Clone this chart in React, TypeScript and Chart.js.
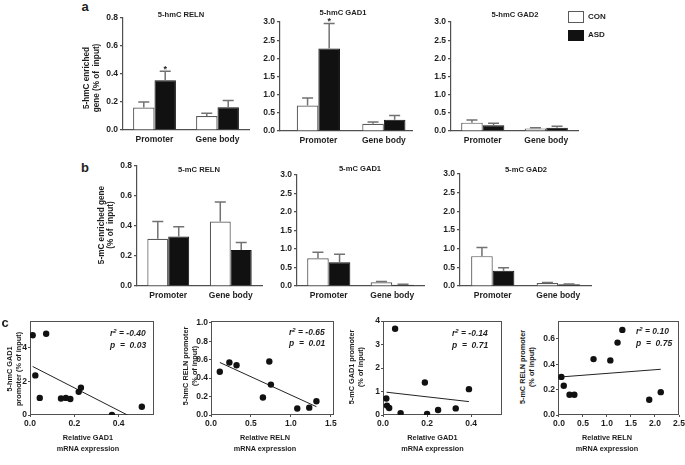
import React, { useEffect, useRef } from "react";
import { Chart, registerables } from "chart.js";

Chart.register(...registerables);

const FONT = "'Liberation Sans', Arial, Helvetica, sans-serif";
const TEXT = "#1e1e1e";
const AXIS = "#505050";
const ERR = "#727272";

// ---------------- data ----------------
const regions = ["Promoter", "Gene body"];
const groups = ["CON", "ASD"];
const barTitles = ["5-hmC RELN", "5-hmC GAD1", "5-hmC GAD2", "5-mC RELN", "5-mC GAD1", "5-mC GAD2"];

// a: 5-hmC enrichment (% of input), mean and SEM
const hmcRelnCon = [0.16, 0.1];
const hmcRelnConErr = [0.04, 0.02];
const hmcRelnAsd = [0.355, 0.162];
const hmcRelnAsdErr = [0.065, 0.048];
const hmcRelnSig = [true, false];

const hmcGad1Con = [0.7, 0.2];
const hmcGad1ConErr = [0.21, 0.05];
const hmcGad1Asd = [2.27, 0.31];
const hmcGad1AsdErr = [0.69, 0.12];
const hmcGad1Sig = [true, false];

const hmcGad2Con = [0.23, 0.07];
const hmcGad2ConErr = [0.07, 0.02];
const hmcGad2Asd = [0.16, 0.09];
const hmcGad2AsdErr = [0.05, 0.04];
const hmcGad2Sig = [false, false];

// b: 5-mC enrichment (% of input)
const mcRelnCon = [0.315, 0.43];
const mcRelnConErr = [0.115, 0.13];
const mcRelnAsd = [0.33, 0.24];
const mcRelnAsdErr = [0.065, 0.05];
const mcRelnSig = [false, false];

const mcGad1Con = [0.75, 0.1];
const mcGad1ConErr = [0.16, 0.025];
const mcGad1Asd = [0.64, 0.035];
const mcGad1AsdErr = [0.22, 0.01];
const mcGad1Sig = [false, false];

const mcGad2Con = [0.8, 0.08];
const mcGad2ConErr = [0.23, 0.015];
const mcGad2Asd = [0.41, 0.045];
const mcGad2AsdErr = [0.08, 0.01];
const mcGad2Sig = [false, false];

const yTicksLow = [0, 0.2, 0.4, 0.6, 0.8];
const yTicksHigh = [0, 0.5, 1, 1.5, 2, 2.5, 3];

// c: correlations with mRNA expression
const hmcGad1Expr = [0.012, 0.073, 0.024, 0.044, 0.14, 0.162, 0.182, 0.22, 0.23, 0.37, 0.505];
const hmcGad1Prom = [4.75, 4.84, 2.36, 1.02, 0.98, 1.02, 0.95, 1.38, 1.62, 0.0, 0.49];
const hmcGad1FitX = [0.012, 0.44];
const hmcGad1FitY = [2.89, 0.0];

const hmcRelnExpr = [0.11, 0.23, 0.32, 0.65, 0.73, 0.75, 1.08, 1.23, 1.32];
const hmcRelnProm = [0.47, 0.57, 0.54, 0.19, 0.58, 0.33, 0.07, 0.08, 0.15];
const hmcRelnFitX = [0.11, 1.32];
const hmcRelnFitY = [0.57, 0.09];

const mcGad1Expr = [0.055, 0.015, 0.018, 0.028, 0.08, 0.19, 0.2, 0.25, 0.33, 0.39];
const mcGad1Prom = [3.67, 0.7, 0.4, 0.3, 0.08, 1.38, 0.05, 0.21, 0.28, 1.1];
const mcGad1FitX = [0.016, 0.39];
const mcGad1FitY = [0.97, 0.57];

const mcRelnExpr = [0.05, 0.1, 0.22, 0.32, 0.72, 1.07, 1.22, 1.32, 1.88, 2.12];
const mcRelnProm = [0.3, 0.23, 0.16, 0.16, 0.44, 0.43, 0.57, 0.67, 0.12, 0.18];
const mcRelnFitX = [0.05, 2.12];
const mcRelnFitY = [0.3, 0.36];

const gad1ExprTicks = [0, 0.2, 0.4];
const relnExprTicks = [0, 0.5, 1, 1.5];
const relnExprTicksWide = [0, 0.5, 1, 1.5, 2, 2.5];
const hmcGad1PromTicks = [0, 2, 4];
const hmcRelnPromTicks = [0, 0.2, 0.4, 0.6, 0.8, 1];
const mcGad1PromTicks = [0, 1, 2, 3, 4];
const mcRelnPromTicks = [0, 0.2, 0.4, 0.6];

const rSquared = ["-0.40", "-0.65", "-0.14", "0.10"];
const pValues = ["0.03", "0.01", "0.71", "0.75"];

// ---------------- layout helpers ----------------
const PT = 8;
const PR = 12;
type Rect = { l: number; t: number; r: number; b: number };

function frame(rc: Rect, wy: number, hx: number) {
  return {
    left: rc.l - wy,
    top: rc.t - PT,
    width: wy + rc.r - rc.l + PR,
    height: PT + rc.b - rc.t + hx,
  };
}

const tickFont = { family: FONT, size: 8.5, weight: "bold" as const };

const errorBarPlugin = {
  id: "errorBars",
  afterDatasetsDraw(chart: any) {
    const ctx = chart.ctx;
    const yScale = chart.scales.y;
    chart.data.datasets.forEach((ds: any, di: number) => {
      if (!ds.errors) return;
      const meta = chart.getDatasetMeta(di);
      meta.data.forEach((el: any, j: number) => {
        const v = ds.data[j].y;
        const e = ds.errors[j];
        const x = el.x;
        const yTop = el.y;
        const yErr = yScale.getPixelForValue(v + e);
        const cap = 11;
        ctx.save();
        ctx.strokeStyle = ERR;
        ctx.lineWidth = 1.5;
        ctx.beginPath();
        ctx.moveTo(x, yTop);
        ctx.lineTo(x, yErr);
        ctx.moveTo(x - cap / 2, yErr);
        ctx.lineTo(x + cap / 2, yErr);
        ctx.stroke();
        if (ds.sig && ds.sig[j]) {
          ctx.fillStyle = TEXT;
          ctx.font = `bold 9px ${FONT}`;
          ctx.textAlign = "center";
          ctx.textBaseline = "alphabetic";
          ctx.fillText("*", x, yErr + 0.5);
        }
        ctx.restore();
      });
    });
  },
};

const boxPlugin = {
  id: "boxBorder",
  beforeDatasetsDraw(chart: any) {
    const { left, top, right, bottom } = chart.chartArea;
    const ctx = chart.ctx;
    ctx.save();
    ctx.strokeStyle = AXIS;
    ctx.lineWidth = 1;
    ctx.strokeRect(Math.round(left) + 0.5, Math.round(top) + 0.5, Math.round(right - left) - 1, Math.round(bottom - top) - 1);
    ctx.restore();
  },
};

function barConfig(
  con: number[], conErr: number[], asd: number[], asdErr: number[], sig: boolean[],
  yMax: number, yTicks: number[], xMin: number, xMax: number, catPct: number, wy: number, hx: number
) {
  const pos = regions.map((_, i) => i + 1);
  return {
    type: "bar",
    data: {
      datasets: [
        {
          label: groups[0],
          data: pos.map((x, i) => ({ x, y: con[i] })),
          errors: conErr,
          sig: regions.map(() => false),
          backgroundColor: "#ffffff",
          borderColor: "#5a5a5a",
          borderWidth: 1.2,
          barPercentage: 1,
          categoryPercentage: catPct,
        },
        {
          label: groups[1],
          data: pos.map((x, i) => ({ x, y: asd[i] })),
          errors: asdErr,
          sig,
          backgroundColor: "#111111",
          borderColor: "#111111",
          borderWidth: 1,
          barPercentage: 1,
          categoryPercentage: catPct,
        },
      ],
    },
    options: {
      responsive: false,
      animation: false,
      devicePixelRatio: 1,
      layout: { padding: { top: PT, right: PR, bottom: 0, left: 0 } },
      plugins: { legend: { display: false }, tooltip: { enabled: false } },
      scales: {
        x: {
          type: "linear",
          min: xMin,
          max: xMax,
          offset: false,
          afterBuildTicks: (s: any) => { s.ticks = pos.map((v) => ({ value: v })); },
          afterFit: (s: any) => { s.height = hx; },
          ticks: {
            callback: (v: any) => regions[Math.round(Number(v)) - 1] ?? "",
            font: tickFont, color: TEXT, padding: 5, maxRotation: 0, minRotation: 0, autoSkip: false,
          },
          grid: { display: false, drawTicks: false, offset: false },
          border: { display: true, color: AXIS, width: 1.2 },
        },
        y: {
          type: "linear",
          min: 0,
          max: yMax,
          afterBuildTicks: (s: any) => { s.ticks = yTicks.map((v) => ({ value: v })); },
          afterFit: (s: any) => { s.width = wy; },
          ticks: { callback: (v: any) => Number(v).toFixed(1), font: tickFont, color: TEXT, padding: 2, autoSkip: false },
          grid: { display: true, drawOnChartArea: false, drawTicks: true, tickLength: 3, color: AXIS, lineWidth: 1.2 },
          border: { display: true, color: AXIS, width: 1.2 },
        },
      },
    },
    plugins: [errorBarPlugin],
  };
}

function scatterConfig(
  xs: number[], ys: number[], fx: number[], fy: number[],
  xMin: number, xMax: number, xTicks: number[], xDec: number,
  yMax: number, yTicks: number[], yDec: number, wy: number, hx: number
) {
  return {
    type: "scatter",
    data: {
      datasets: [
        {
          data: xs.map((x, i) => ({ x, y: ys[i] })),
          backgroundColor: "#111111",
          borderWidth: 0,
          pointRadius: 3.2,
          pointHoverRadius: 3.2,
        },
        {
          data: fx.map((x, i) => ({ x, y: fy[i] })),
          showLine: true,
          borderColor: "#222222",
          borderWidth: 1,
          pointRadius: 0,
          fill: false,
        },
      ],
    },
    options: {
      responsive: false,
      animation: false,
      devicePixelRatio: 1,
      layout: { padding: { top: PT, right: PR, bottom: 0, left: 0 } },
      plugins: { legend: { display: false }, tooltip: { enabled: false } },
      scales: {
        x: {
          type: "linear",
          min: xMin,
          max: xMax,
          afterBuildTicks: (s: any) => { s.ticks = xTicks.map((v) => ({ value: v })); },
          afterFit: (s: any) => { s.height = hx; },
          ticks: { callback: (v: any) => Number(v).toFixed(xDec), font: tickFont, color: TEXT, padding: 2, maxRotation: 0, autoSkip: false },
          grid: { display: true, drawOnChartArea: false, drawTicks: true, tickLength: 2, color: AXIS },
          border: { display: false },
        },
        y: {
          type: "linear",
          min: 0,
          max: yMax,
          afterBuildTicks: (s: any) => { s.ticks = yTicks.map((v) => ({ value: v })); },
          afterFit: (s: any) => { s.width = wy; },
          ticks: { callback: (v: any) => Number(v).toFixed(yDec), font: tickFont, color: TEXT, padding: 1, autoSkip: false },
          grid: { display: true, drawOnChartArea: false, drawTicks: true, tickLength: 2, color: AXIS },
          border: { display: false },
        },
      },
    },
    plugins: [boxPlugin],
  };
}

// ---------------- chart specs ----------------
const BWY = 30, BHX = 20, SWY = 22, SHX = 20;
const R1: Rect = { l: 123, t: 18, r: 249, b: 130 };
const R2: Rect = { l: 280, t: 22, r: 412, b: 131 };
const R3: Rect = { l: 451, t: 22, r: 578, b: 131 };
const R4: Rect = { l: 137, t: 166, r: 262, b: 286 };
const R5: Rect = { l: 297, t: 175, r: 424, b: 286 };
const R6: Rect = { l: 460, t: 174, r: 591, b: 286 };
const S1: Rect = { l: 30, t: 321, r: 154, b: 415 };
const S2: Rect = { l: 211, t: 321, r: 334, b: 415 };
const S3: Rect = { l: 383, t: 321, r: 502, b: 415 };
const S4: Rect = { l: 558, t: 321, r: 679, b: 415 };

const specs = [
  { f: frame(R1, BWY, BHX), c: barConfig(hmcRelnCon, hmcRelnConErr, hmcRelnAsd, hmcRelnAsdErr, hmcRelnSig, 0.8, yTicksLow, 0.5, 2.5, 0.68, BWY, BHX) },
  { f: frame(R2, BWY, BHX), c: barConfig(hmcGad1Con, hmcGad1ConErr, hmcGad1Asd, hmcGad1AsdErr, hmcGad1Sig, 3, yTicksHigh, 0.414, 2.43, 0.66, BWY, BHX) },
  { f: frame(R3, BWY, BHX), c: barConfig(hmcGad2Con, hmcGad2ConErr, hmcGad2Asd, hmcGad2AsdErr, hmcGad2Sig, 3, yTicksHigh, 0.5, 2.5, 0.68, BWY, BHX) },
  { f: frame(R4, BWY, BHX), c: barConfig(mcRelnCon, mcRelnConErr, mcRelnAsd, mcRelnAsdErr, mcRelnSig, 0.8, yTicksLow, 0.5, 2.5, 0.67, BWY, BHX) },
  { f: frame(R5, BWY, BHX), c: barConfig(mcGad1Con, mcGad1ConErr, mcGad1Asd, mcGad1AsdErr, mcGad1Sig, 3, yTicksHigh, 0.5, 2.5, 0.68, BWY, BHX) },
  { f: frame(R6, BWY, BHX), c: barConfig(mcGad2Con, mcGad2ConErr, mcGad2Asd, mcGad2AsdErr, mcGad2Sig, 3, yTicksHigh, 0.5, 2.5, 0.66, BWY, BHX) },
  { f: frame(S1, SWY, SHX), c: scatterConfig(hmcGad1Expr, hmcGad1Prom, hmcGad1FitX, hmcGad1FitY, 0, 0.56, gad1ExprTicks, 1, 5.6, hmcGad1PromTicks, 0, SWY, SHX) },
  { f: frame(S2, SWY, SHX), c: scatterConfig(hmcRelnExpr, hmcRelnProm, hmcRelnFitX, hmcRelnFitY, 0, 1.54, relnExprTicks, 1, 1.02, hmcRelnPromTicks, 1, SWY, SHX) },
  { f: frame(S3, SWY, SHX), c: scatterConfig(mcGad1Expr, mcGad1Prom, mcGad1FitX, mcGad1FitY, 0, 0.54, gad1ExprTicks, 1, 4, mcGad1PromTicks, 0, SWY, SHX) },
  { f: frame(S4, SWY, SHX), c: scatterConfig(mcRelnExpr, mcRelnProm, mcRelnFitX, mcRelnFitY, -0.02, 2.5, relnExprTicksWide, 1, 0.74, mcRelnPromTicks, 1, SWY, SHX) },
];

function ChartCanvas({ spec }: { spec: any }) {
  const ref = useRef<HTMLCanvasElement>(null);
  useEffect(() => {
    const chart = new Chart(ref.current as HTMLCanvasElement, spec.c as any);
    return () => chart.destroy();
  }, []);
  const f = spec.f;
  return (
    <canvas
      ref={ref}
      width={f.width}
      height={f.height}
      style={{ position: "absolute", left: f.left, top: f.top, width: f.width, height: f.height }}
    />
  );
}

type LP = { x: number; y: number; text: string; size: number; rotate?: boolean; lh?: number; anchor?: "center" | "left" };
function Lbl({ x, y, text, size, rotate, lh, anchor = "center" }: LP) {
  const tf = (anchor === "left" ? "translate(0,-50%)" : "translate(-50%,-50%)") + (rotate ? " rotate(-90deg)" : "");
  return (
    <div
      style={{
        position: "absolute", left: x, top: y, transform: tf,
        fontFamily: FONT, fontSize: size, fontWeight: "bold", color: TEXT,
        whiteSpace: "pre", textAlign: "center", lineHeight: lh ? `${lh}px` : 1.1,
      }}
    >
      {text}
    </div>
  );
}

function Stat({ x, y, r2, p }: { x: number; y: number; r2: string; p: string }) {
  const st: any = {
    position: "absolute", left: x, fontFamily: FONT, fontSize: 8.5, fontWeight: "bold",
    fontStyle: "italic", color: TEXT, whiteSpace: "pre", lineHeight: 1, transform: "translate(0,-50%)",
  };
  return (
    <>
      <div style={{ ...st, top: y }}>
        r<span style={{ fontSize: 6, position: "relative", top: -3 }}>2</span>{" = " + r2}
      </div>
      <div style={{ ...st, top: y + 11.5 }}>{"p  =  " + p}</div>
    </>
  );
}

export default function App() {
  return (
    <div style={{ position: "absolute", left: 0, top: 0, width: 685, height: 465, overflow: "hidden", background: "#ffffff" }}>
      {specs.map((s, i) => (
        <ChartCanvas key={i} spec={s} />
      ))}

      {/* panel letters */}
      <Lbl x={85} y={7} text="a" size={13} />
      <Lbl x={85} y={168} text="b" size={13} />
      <Lbl x={5} y={323} text="c" size={13} />

      {/* bar chart titles */}
      <Lbl x={181} y={15} text={barTitles[0]} size={7.6} />
      <Lbl x={343} y={13} text={barTitles[1]} size={7.6} />
      <Lbl x={515} y={15} text={barTitles[2]} size={7.6} />
      <Lbl x={199} y={170} text={barTitles[3]} size={7.6} />
      <Lbl x={360} y={169} text={barTitles[4]} size={7.6} />
      <Lbl x={526} y={170} text={barTitles[5]} size={7.6} />

      {/* bar y titles */}
      <Lbl x={90.5} y={78} text={"5-hmC enriched\ngene (% of  input)"} size={8.2} rotate lh={9.5} />
      <Lbl x={106} y={225} text={"5-mC enriched gene\n(% of  input)"} size={8.2} rotate lh={9} />

      {/* legend */}
      <div style={{ position: "absolute", left: 568, top: 11, width: 14, height: 10, border: "1px solid #5a5a5a", background: "#fff" }} />
      <Lbl x={588} y={16.5} text={groups[0]} size={8} anchor="left" />
      <div style={{ position: "absolute", left: 568, top: 29.5, width: 16, height: 11, background: "#111" }} />
      <Lbl x={588} y={35} text={groups[1]} size={8} anchor="left" />

      {/* scatter y titles */}
      <Lbl x={13.5} y={369} text={"5-hmC GAD1\npromoter (% of input)"} size={7.3} rotate lh={8.5} />
      <Lbl x={189.5} y={366} text={"5-hmC RELN promoter\n(% of input)"} size={7.3} rotate lh={8.5} />
      <Lbl x={356} y={367} text={"5-mC GAD1 promoter\n(% of input)"} size={7.3} rotate lh={8.5} />
      <Lbl x={527} y={367} text={"5-mC RELN promoter\n(% of input)"} size={7.3} rotate lh={8.5} />

      {/* scatter x titles */}
      <Lbl x={88} y={443} text={"Relative GAD1\nmRNA expression"} size={7.3} lh={11} />
      <Lbl x={265} y={443} text={"Relative RELN\nmRNA expression"} size={7.3} lh={11} />
      <Lbl x={432.5} y={443} text={"Relative GAD1\nmRNA expression"} size={7.3} lh={11} />
      <Lbl x={607} y={443} text={"Relative RELN\nmRNA expression"} size={7.3} lh={11} />

      {/* statistics */}
      <Stat x={110} y={333} r2={rSquared[0]} p={pValues[0]} />
      <Stat x={289} y={331.5} r2={rSquared[1]} p={pValues[1]} />
      <Stat x={452} y={333} r2={rSquared[2]} p={pValues[2]} />
      <Stat x={636} y={331} r2={rSquared[3]} p={pValues[3]} />
    </div>
  );
}
